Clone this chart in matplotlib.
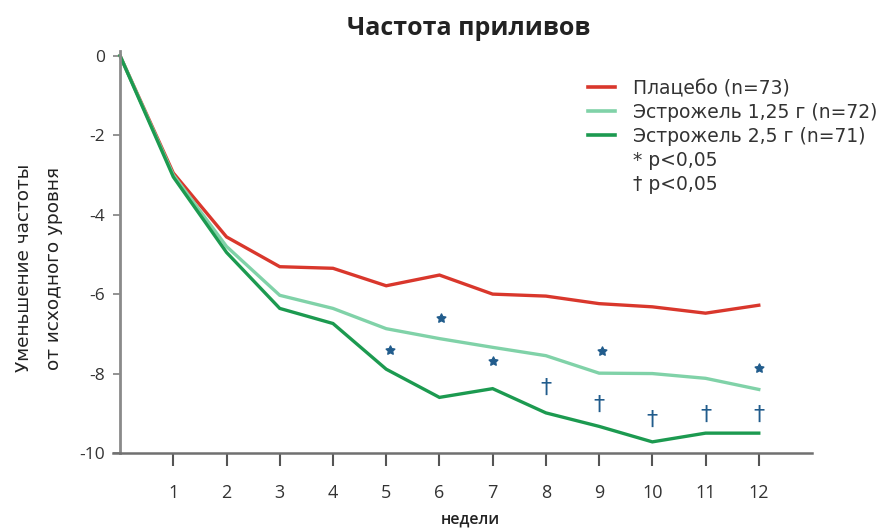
import matplotlib
matplotlib.use("Agg")
import matplotlib.pyplot as plt
from matplotlib.lines import Line2D

plt.rcParams["font.family"] = ["Open Sans", "DejaVu Sans"]

weeks = [0, 1, 2, 3, 4, 5, 6, 7, 8, 9, 10, 11, 12]
placebo = [0, -2.95, -4.56, -5.31, -5.35, -5.79, -5.52, -6.0, -6.05, -6.24, -6.32, -6.48, -6.28]
estro_125 = [0, -3.0, -4.8, -6.03, -6.36, -6.87, -7.12, -7.34, -7.55, -7.99, -8.0, -8.12, -8.4]
estro_25 = [0, -3.05, -4.95, -6.36, -6.74, -7.89, -8.6, -8.38, -8.99, -9.33, -9.72, -9.5, -9.5]

star_weeks = [5.08, 6.03, 7.0, 9.05, 12.0]
star_vals = [-7.41, -6.59, -7.69, -7.43, -7.86]
dagger_weeks = [8, 9, 10, 11, 12]
dagger_vals = [-8.36, -8.79, -9.17, -9.04, -9.04]

labels = ["Плацебо (n=73)", "Эстрожель 1,25 г (n=72)", "Эстрожель 2,5 г (n=71)"]
colors = ["#d9372c", "#80d2a8", "#1c9a50"]
mark_color = "#215c8c"
axis_color = "#8a8a8a"

fig = plt.figure(figsize=(8.89, 5.32), dpi=100)
ax = fig.add_axes([0.1271, 0.1485, 0.7863, 0.7556])

for vals, c in zip([placebo, estro_125, estro_25], colors):
    ax.plot(weeks, vals, color=c, lw=2.4, clip_on=False, solid_joinstyle="miter")

for w, v in zip(star_weeks, star_vals):
    ax.plot(w, v, marker=(5, 1, 0), ms=7, color=mark_color, mew=0.8, linestyle="none")
for w, v in zip(dagger_weeks, dagger_vals):
    ax.text(w, v, "†", color=mark_color, fontsize=16, ha="center", va="center",
            family="DejaVu Sans")

ax.set_xlim(-0.133, 13.0)
ax.set_ylim(-10, 0.12)
ax.set_xticks(range(1, 13))
ax.set_yticks([0, -2, -4, -6, -8, -10])
ax.set_yticklabels(["0", "-2", "-4", "-6", "-8", "-10"])

for s in ["top", "right"]:
    ax.spines[s].set_visible(False)
ax.spines["left"].set_position(("data", 0))
ax.spines["left"].set_color(axis_color)
ax.spines["left"].set_linewidth(2.0)
ax.spines["bottom"].set_color("#707070")
ax.spines["bottom"].set_linewidth(1.8)

ax.tick_params(axis="y", direction="out", length=5, width=1.3, color=axis_color,
               labelsize=12.5, labelcolor="#333333", pad=6)
ax.tick_params(axis="x", direction="out", length=9, width=1.5, color="#555555",
               labelsize=13, labelcolor="#333333", pad=13)

fig.text(0.527, 0.947, "Частота приливов", ha="center", va="center",
         fontsize=18, fontweight="bold", color="#222222")
fig.text(0.529, 0.023, "недели", ha="center", va="center", fontsize=11.5,
         fontweight="semibold", color="#222222")
fig.text(24 / 889, 1 - 268 / 532, "Уменьшение частоты", rotation=90,
         ha="center", va="center", fontsize=13.3, color="#222222", family="DejaVu Sans")
fig.text(54 / 889, 1 - 268 / 532, "от исходного уровня", rotation=90,
         ha="center", va="center", fontsize=13.3, color="#222222", family="DejaVu Sans")

handles = [Line2D([], [], color=c, lw=2.6) for c in colors]
handles += [Line2D([], [], color="none"), Line2D([], [], color="none")]
leg = ax.legend(handles, labels + ["* p<0,05", "† p<0,05"], loc="upper left",
                bbox_to_anchor=(588 / 889, 1 - 79 / 532), bbox_transform=fig.transFigure,
                frameon=False, prop={"family": "DejaVu Sans", "size": 13.5},
                handlelength=1.45, handletextpad=0.95,
                labelspacing=0.26, borderpad=0, borderaxespad=0)
for t in leg.get_texts():
    t.set_color("#333333")

plt.savefig("out.png", dpi=100)
